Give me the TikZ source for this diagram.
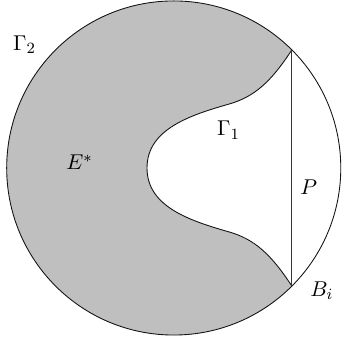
\documentclass[tikz,border=0pt]{standalone}
\usepackage{amsmath}
\usetikzlibrary{calc}
\definecolor{cFill}{RGB}{191,191,191}
\definecolor{cLine}{RGB}{20,20,20}

\begin{document}
\begin{tikzpicture}[
  % ── outlines
  bdry/.style={draw=cLine, line width=0.45pt},
  chord/.style={draw=cLine!85, line width=0.45pt},
  % ── labels
  lbl/.style={inner sep=0pt, anchor=base west, font=\fontsize{10.8}{13}\selectfont},
]
\useasboundingbox (-3.12,-3.143) rectangle (3.005,3.017);

%% ═══════════════════════════════════════════════
%%  SHADED REGION  E*  (disc minus the cap behind Gamma_1)
%% ═══════════════════════════════════════════════
\coordinate (Btop) at (45:3);
\coordinate (Bbot) at (-45:3);

\fill[cFill] (Btop) arc[start angle=45, end angle=315, radius=3]
  .. controls (1.75,-1.55) and (1.45,-1.28) .. (1.0,-1.15)
  .. controls (0.3,-0.95) and (-0.48,-0.7) .. (-0.48,0)
  .. controls (-0.48,0.7) and (0.3,0.95) .. (1.0,1.15)
  .. controls (1.45,1.28) and (1.75,1.55) .. (Btop) -- cycle;

% Gamma_1
\draw[bdry] (Btop)
  .. controls (1.75,1.55) and (1.45,1.28) .. (1.0,1.15)
  .. controls (0.3,0.95) and (-0.48,0.7) .. (-0.48,0)
  .. controls (-0.48,-0.7) and (0.3,-0.95) .. (1.0,-1.15)
  .. controls (1.45,-1.28) and (1.75,-1.55) .. (Bbot);

% Gamma_2
\draw[bdry] (0,0) circle[radius=3];

% P
\draw[chord] (Btop) -- (Bbot);

%% ═══════════════════════════════════════════════
%%  LABELS
%% ═══════════════════════════════════════════════
\node[lbl] (G2) at (-2.89,2.107)  {$\Gamma_2$};
\node[lbl] (Es) at (-1.934,-0.036) {$E^*$};
\node[lbl] (G1) at (0.772,0.575)  {$\Gamma_1$};
\node[lbl] (Pl) at (2.268,-0.485) {$P$};
\node[lbl] (Bi) at (2.448,-2.299) {$B_i$};

\end{tikzpicture}
\end{document}
